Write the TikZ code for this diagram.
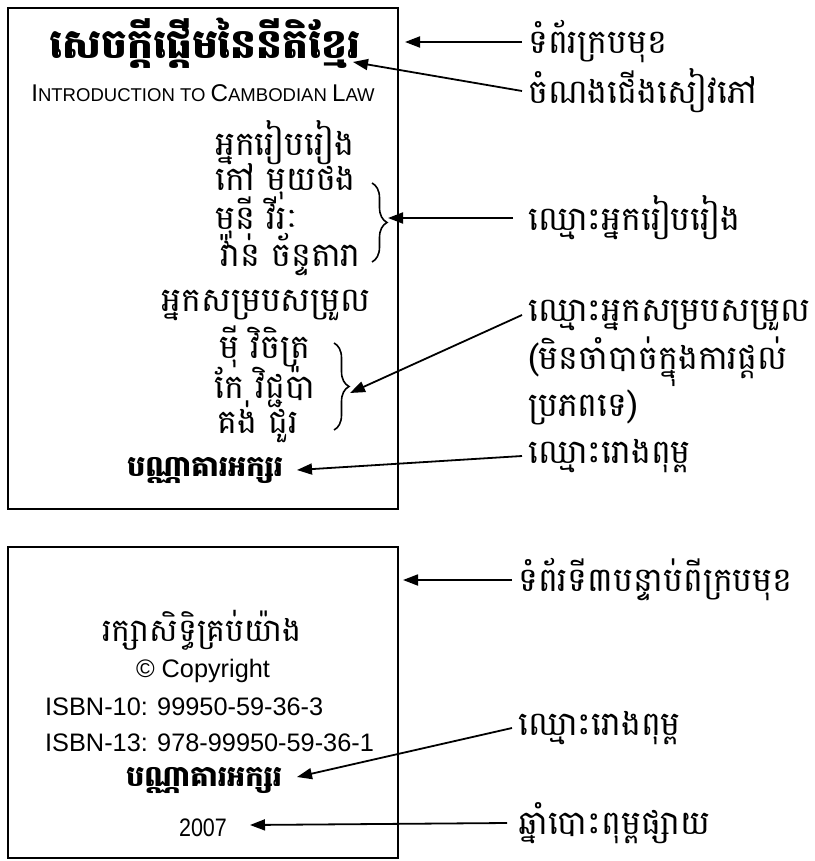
\documentclass[tikz,border=0pt]{standalone}
\usepackage{fontspec}
\setmainfont{Liberation Sans}
\newfontfamily\khmer[Script=Khmer]{Battambang}
\usetikzlibrary{arrows.meta,decorations.pathreplacing}
\tikzset{
  kh/.style={font=\khmer\fontsize{33.5}{38}\selectfont, inner sep=0pt},
  khb/.style={font=\khmer\bfseries\fontsize{29}{34}\selectfont, inner sep=0pt},
  lat/.style={font=\fontsize{25.4}{28}\selectfont, inner sep=0pt},
  lbl/.style={kh, anchor=west},
  arr/.style={-{Triangle[length=15bp,width=11bp]}, line width=1.8bp},
  boxline/.style={line width=2bp},
  bracedeco/.style={decorate, decoration={brace, amplitude=15bp}, line width=1.6bp}
}
\begin{document}
\begin{tikzpicture}[x=1bp,y=-1bp]
\useasboundingbox (0,0) rectangle (815,861);
% boxes
\draw[boxline] (8,8) rectangle (398,509);
\draw[boxline] (8,547) rectangle (398,858);

% top box content
\node[khb, font=\khmer\bfseries\fontsize{41}{46}\selectfont] (title) at (205,43) {សេចក្តីផ្តើមនៃនីតិខ្មែរ};
\node[lat] (intro) at (203,93) {\fontsize{24.3}{28}\selectfont I\fontsize{18.6}{28}\selectfont NTRODUCTION TO \fontsize{24.3}{28}\selectfont C\fontsize{18.6}{28}\selectfont AMBODIAN \fontsize{24.3}{28}\selectfont L\fontsize{18.6}{28}\selectfont AW};
\node[kh, anchor=west] (a0) at (215,143) {អ្នករៀបរៀង};
\node[kh, anchor=west] (a1) at (215,182) {កៅ មុយថង};
\node[kh, anchor=west] (a2) at (215,218) {មុនី វីរៈ};
\node[kh, anchor=west] (a3) at (220,255) {វ៉ាន់ ច័ន្ទតារា};
\draw[bracedeco] (372,183) -- (372,262);
\coordinate (b1tip) at (388,218);

\node[kh] (e0) at (266,305) {អ្នកសម្របសម្រួល};
\node[kh] (e1) at (265,347) {ម៉ី វិចិត្រ};
\node[kh] (e2) at (265,387) {កែ វិជ្ជប៉ា};
\node[kh] (e3) at (258,422) {គង់ ជួរ};
\draw[bracedeco] (334,343) -- (334,430);
\coordinate (b2tip) at (350,393);

\node[khb] (pub1) at (205,470) {បណ្ណាគារអក្សរ};

% top labels
\node[lbl] (c1) at (528,42) {ទំព័រក្របមុខ};
\node[lbl] (c2) at (528,91) {ចំណងជើងសៀវភៅ};
\node[lbl] (c3) at (528,218) {ឈ្មោះអ្នករៀបរៀង};
\node[lbl] (ed1) at (528,315) {ឈ្មោះអ្នកសម្របសម្រួល};
\node[lbl] (ed2) at (528,362) {(មិនចាំបាច់ក្នុងការផ្តល់};
\node[lbl] (ed3) at (528,407) {ប្រភពទេ)};
\node[lbl] (c5) at (528,456) {ឈ្មោះរោងពុម្ព};

\coordinate (t1) at (405,42);
\coordinate (t2) at (353,62);
\coordinate (t5) at (297,470);
\draw[arr] ([xshift=-6bp]c1.west) -- (t1);
\draw[arr] ([xshift=-6bp]c2.west) -- (t2);
\draw[arr] ([xshift=-15bp]c3.west) -- (b1tip);
\draw[arr] ([xshift=-6bp]ed1.west) -- (b2tip);
\draw[arr] ([xshift=-6bp]c5.west) -- (t5);

% bottom box content
\node[kh, font=\khmer\fontsize{32}{36}\selectfont] (rk) at (202,630) {រក្សាសិទ្ធិគ្រប់យ៉ាង};
\node[lat] (cp) at (203,671) {© Copyright};
\node[lat, anchor=west] (i10) at (45,707) {ISBN-10: 99950-59-36-3};
\node[lat, anchor=west] (i13) at (45,743) {ISBN-13: 978-99950-59-36-1};
\node[khb] (pub2) at (204,780) {បណ្ណាគារអក្សរ};
\node[lat] (yr) at (203,828) {\scalebox{0.85}[1]{2007}};

% bottom labels
\node[lbl] (d1) at (518,580) {ទំព័រទី៣បន្ទាប់ពីក្របមុខ};
\node[lbl] (d2) at (518,728) {ឈ្មោះរោងពុម្ព};
\node[lbl] (d3) at (518,823) {ឆ្នាំបោះពុម្ពផ្សាយ};

\coordinate (t6) at (403,580);
\coordinate (t7) at (297,777);
\coordinate (t8) at (250,825);
\draw[arr] ([xshift=-6bp]d1.west) -- (t6);
\draw[arr] ([xshift=-6bp]d2.west) -- (t7);
\draw[arr] ([xshift=-11bp]d3.west) -- (t8);
\end{tikzpicture}
\end{document}
